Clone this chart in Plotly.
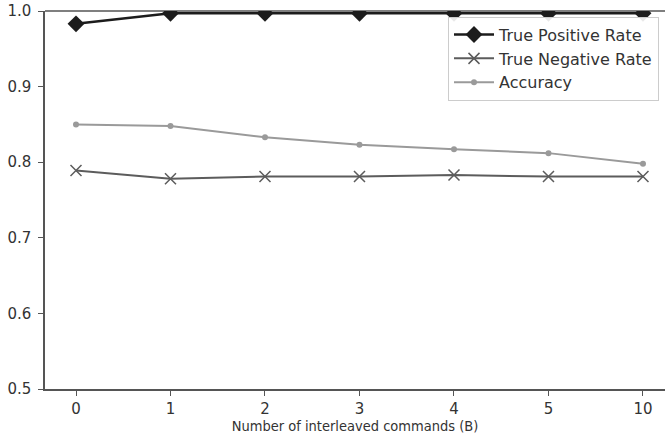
import plotly.graph_objects as go

categories = ["0", "1", "2", "3", "4", "5", "10"]
tpr = [0.983, 0.997, 0.997, 0.997, 0.997, 0.997, 0.997]
tnr = [0.789, 0.778, 0.781, 0.781, 0.783, 0.781, 0.781]
acc = [0.850, 0.848, 0.833, 0.823, 0.817, 0.812, 0.798]
y_ticks = [0.5, 0.6, 0.7, 0.8, 0.9, 1.0]

fig = go.Figure()
fig.add_trace(go.Scatter(x=categories, y=tpr, name="True Positive Rate", mode="lines+markers",
                         line=dict(color="#1c1c1c", width=2.5),
                         marker=dict(symbol="diamond", size=13, color="#1c1c1c")))
fig.add_trace(go.Scatter(x=categories, y=tnr, name="True Negative Rate", mode="lines+markers",
                         line=dict(color="#5c5c5c", width=2),
                         marker=dict(symbol="x-thin-open", size=11, line=dict(color="#5c5c5c", width=1.5))))
fig.add_trace(go.Scatter(x=categories, y=acc, name="Accuracy", mode="lines+markers",
                         line=dict(color="#9a9a9a", width=2),
                         marker=dict(symbol="circle", size=6, color="#9a9a9a")))

tick_font = dict(family="DejaVu Sans", size=15, color="#333333")
title_font = dict(family="DejaVu Sans Condensed, DejaVu Sans", size=14.5, color="#333333")
fig.update_layout(
    width=665, height=441,
    margin=dict(l=45, r=0, t=11, b=52),
    paper_bgcolor="white", plot_bgcolor="white",
    font=tick_font,
    xaxis=dict(type="category", range=[-0.328, 6.233], showline=True, linecolor="#555555", linewidth=1.5,
               mirror=False, ticks="outside", ticklen=5, tickcolor="#555555", showgrid=False, zeroline=False,
               tickfont=tick_font,
               title=dict(text="Number of interleaved commands (B)", font=title_font, standoff=4)),
    yaxis=dict(range=[0.5, 1.0], tickvals=y_ticks, ticktext=[f"{v:.1f}" for v in y_ticks],
               showline=True, linecolor="#555555", linewidth=1.5, ticks="outside", ticklen=5,
               tickcolor="#555555", showgrid=False, zeroline=False, tickfont=tick_font, mirror=False,
               ticklabelstandoff=4, ticklabeloverflow="allow"),
    legend=dict(x=0.65, y=0.985, xanchor="left", yanchor="top", bgcolor="rgba(255,255,255,0.9)",
                bordercolor="#cccccc", borderwidth=1, font=dict(family="DejaVu Sans", size=16, color="#333333"),
                tracegroupgap=0, itemwidth=40),
    shapes=[dict(type="line", xref="paper", yref="paper", x0=0, x1=1, y0=1, y1=1,
                 line=dict(color="#555555", width=1.5), layer="below")],
    showlegend=True,
)

fig.write_html("out.html", config={"displayModeBar": False},
               post_script="document.body.style.margin='0';")
